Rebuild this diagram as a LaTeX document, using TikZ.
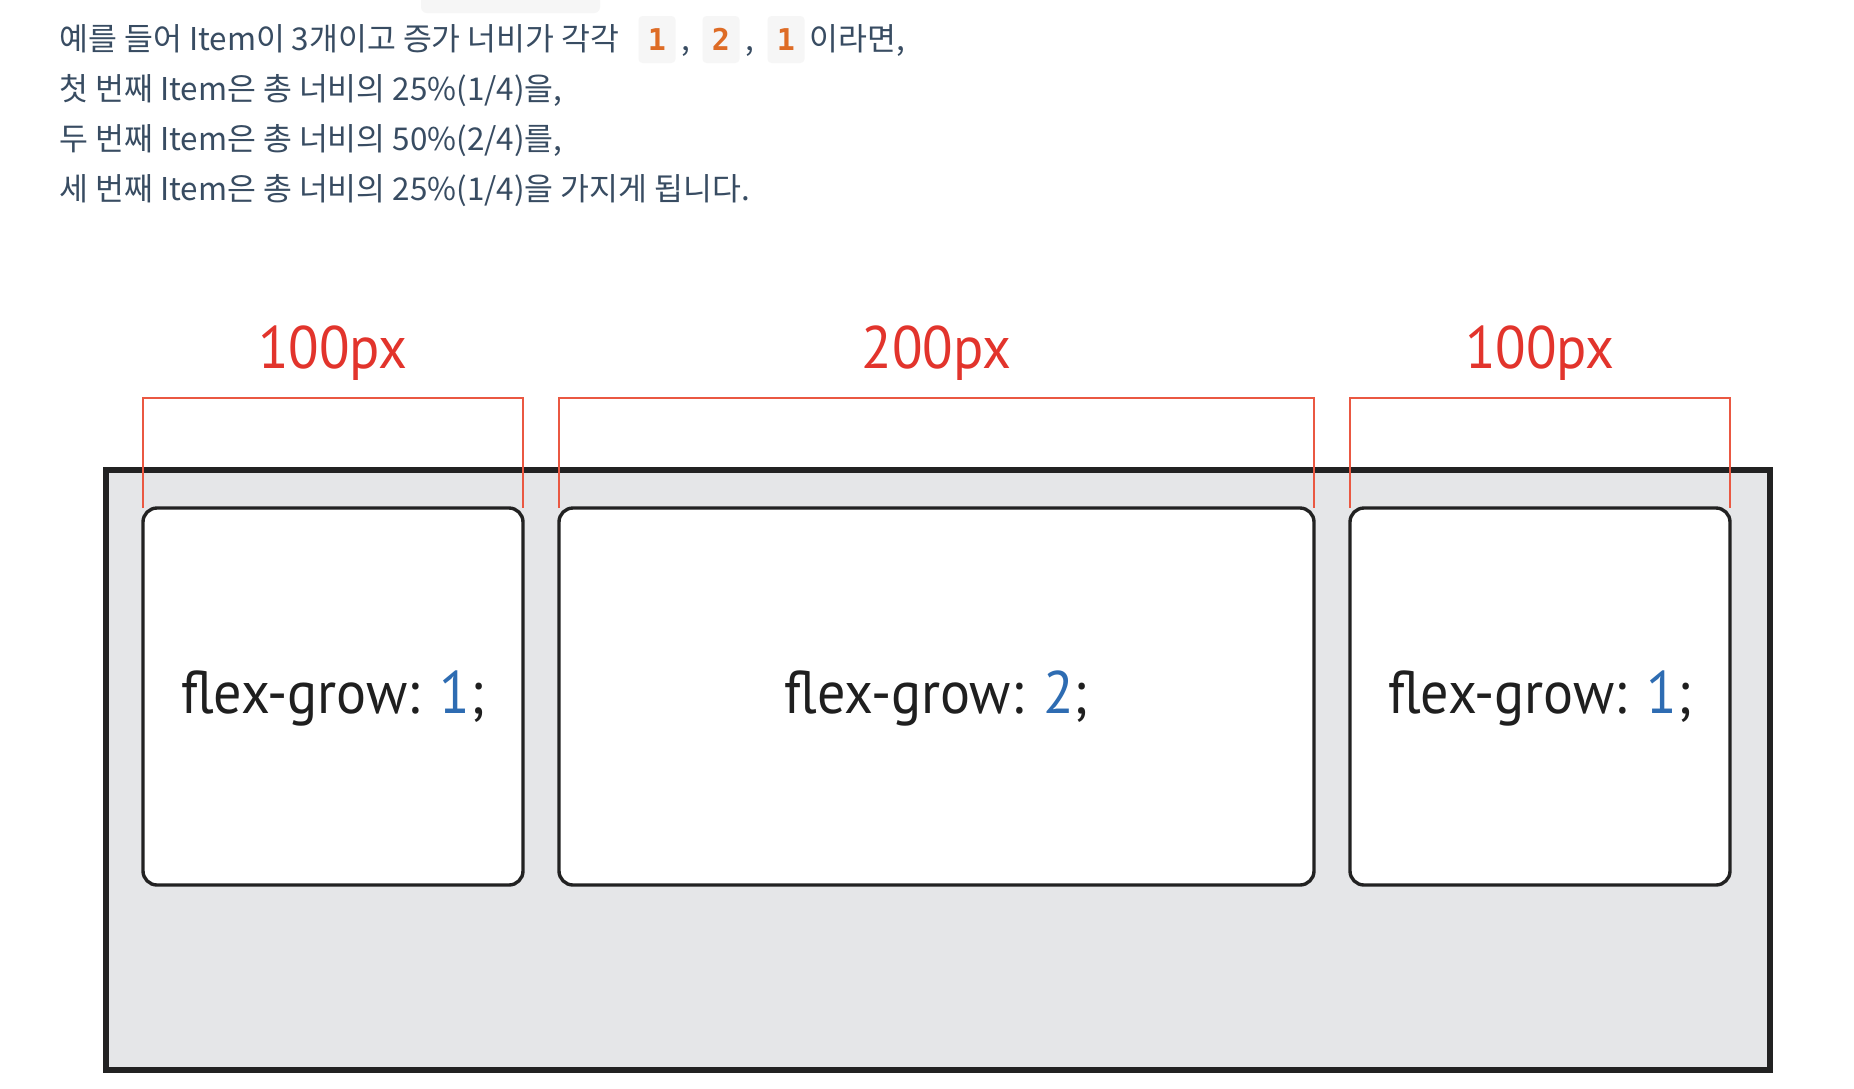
\documentclass[tikz,border=0pt]{standalone}
\usepackage{fontspec}
\newfontfamily\krfont{Noto Sans CJK KR}
\newfontfamily\diafont{PT Sans}[FakeStretch=0.935]
\newfontfamily\chipfont{DejaVu Sans Mono}
\definecolor{txt}{RGB}{56,76,98}
\definecolor{chipbg}{RGB}{246,246,246}
\definecolor{chipfg}{RGB}{222,108,38}
\definecolor{dimred}{RGB}{226,52,44}
\definecolor{brk}{RGB}{234,88,66}
\definecolor{boxgray}{RGB}{229,230,232}
\definecolor{edge}{RGB}{34,34,34}
\definecolor{numblue}{RGB}{46,108,178}
\tikzset{
  krtext/.style={font=\krfont\fontsize{15.7}{18}\selectfont, text=txt, inner sep=0pt, anchor=base west},
  chipbox/.style={fill=chipbg, rounded corners=2pt, inner xsep=0pt, inner ysep=0pt,
     text height=17pt, text depth=6.5pt, minimum width=18.5pt,
     font=\chipfont\bfseries\fontsize{15}{18}\selectfont, text=chipfg, anchor=base},
  container/.style={draw=edge, line width=3pt, fill=boxgray, inner sep=0pt, outer sep=0pt},
  itembox/.style={draw=edge, line width=1.7pt, fill=white, rounded corners=7pt,
     inner sep=0pt, outer sep=0pt, minimum height=188.5pt},
  itemlbl/.style={font=\diafont\fontsize{30}{36}\selectfont, text=black!88, inner sep=0pt, anchor=base},
  dimlbl/.style={font=\diafont\fontsize{30}{36}\selectfont, text=dimred, inner sep=0pt, anchor=base},
  bracket/.style={draw=brk, line width=1.2pt}
}
\begin{document}
\begin{tikzpicture}[x=0.5pt,y=-0.5pt]
\useasboundingbox (0,0) rectangle (1854,1088);
\fill[white] (0,0) rectangle (1854,1088);
% cut-off chip of the line above
\fill[chipbg, rounded corners=3pt] (421,-40) rectangle (600,13);
% text lines
\node[krtext] (t1) at (59,50) {예를 들어 Item이 3개이고 증가 너비가 각각};
\node[chipbox] (c1) at (657,50) {1};
\node[krtext] (m1) at ([xshift=2.5pt]c1.base east) {,};
\node[chipbox] (c2) at (721,50) {2};
\node[krtext] (m2) at ([xshift=2.5pt]c2.base east) {,};
\node[chipbox] (c3) at (786,50) {1};
\node[krtext] (t1b) at (809,50) {이라면,};
\node[krtext] (t2) at (59,100) {첫 번째 Item은 총 너비의 25\%(1/4)을,};
\node[krtext] (t3) at (59,150) {두 번째 Item은 총 너비의 50\%(2/4)를,};
\node[krtext] (t4) at (59,200) {세 번째 Item은 총 너비의 25\%(1/4)을 가지게 됩니다.};
% container
\node[container, minimum width=832pt, minimum height=300pt] (box) at (937.5,770) {};
% items
\node[itembox, minimum width=190pt] (i1) at (333,696.5) {};
\node[itembox, minimum width=377.5pt] (i2) at (936.5,696.5) {};
\node[itembox, minimum width=190pt] (i3) at (1540,696.5) {};
\node[itemlbl] (l1) at (i1.center |- 0,713) {flex-grow: \textcolor{numblue}{1};};
\node[itemlbl] (l2) at (i2.center |- 0,713) {flex-grow: \textcolor{numblue}{2};};
\node[itemlbl] (l3) at (i3.center |- 0,713) {flex-grow: \textcolor{numblue}{1};};
% dimension labels
\node[dimlbl] (d1) at (i1.center |- 0,368) {100px};
\node[dimlbl] (d2) at (i2.center |- 0,368) {200px};
\node[dimlbl] (d3) at (i3.center |- 0,368) {100px};
% brackets
\coordinate (b1l) at (i1.north west |- 0,398);
\coordinate (b1r) at (i1.north east |- 0,398);
\coordinate (b2l) at (i2.north west |- 0,398);
\coordinate (b2r) at (i2.north east |- 0,398);
\coordinate (b3l) at (i3.north west |- 0,398);
\coordinate (b3r) at (i3.north east |- 0,398);
\draw[bracket] (i1.north west) -- (b1l) -- (b1r) -- (i1.north east);
\draw[bracket] (i2.north west) -- (b2l) -- (b2r) -- (i2.north east);
\draw[bracket] (i3.north west) -- (b3l) -- (b3r) -- (i3.north east);
\end{tikzpicture}
\end{document}
